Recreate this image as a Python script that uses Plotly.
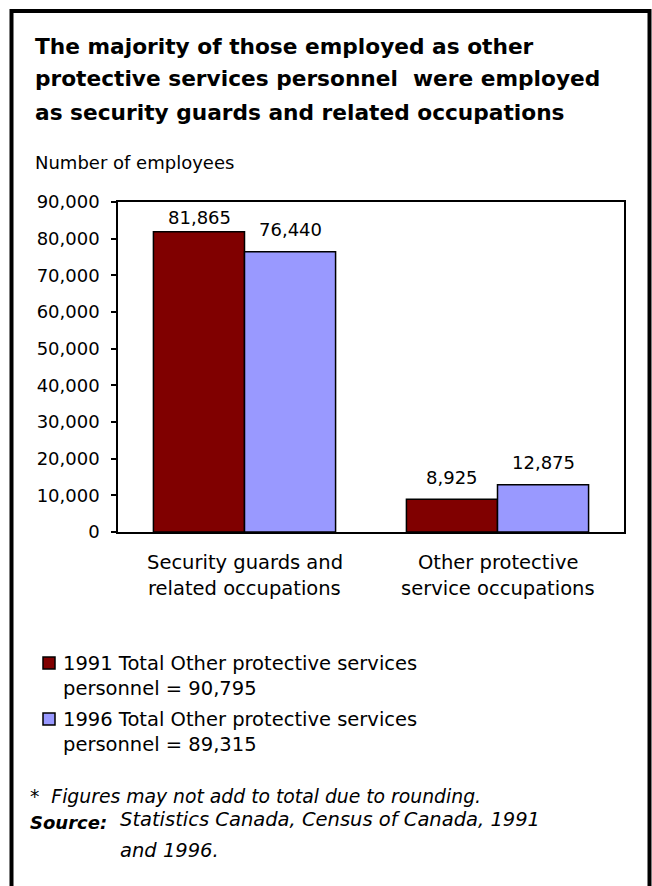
import plotly.graph_objects as go

# ---- data -------------------------------------------------------------
categories = ["Security guards and<br>related occupations",
              "Other protective<br>service occupations"]
years = ["1991", "1996"]
employees_1991 = [81865, 8925]
employees_1996 = [76440, 12875]
totals = [90795, 89315]
y_ticks = [0, 10000, 20000, 30000, 40000, 50000, 60000, 70000, 80000, 90000]

title_lines = [
    "The majority of those employed as other",
    "protective services personnel  were employed",
    "as security guards and related occupations",
]
y_title = "Number of employees"
footnote = "Figures may not add to total due to rounding."
source_lines = ["Statistics Canada, Census of Canada, 1991", "and 1996."]

# ---- styling ----------------------------------------------------------
W, H = 652, 886
L, R, T, B = 118, 624, 202, 532          # plot area in pixels
PW, PH = R - L, B - T
FONT = "DejaVu Sans, Liberation Sans, Arial, sans-serif"
colors = {"1991": "#800000", "1996": "#9999ff"}
TXT = 18        # axis ticks, value labels, axis title
TXT_L = 19.5    # category labels, legend, notes


def px_x(px):
    return (px - L) / PW


def px_y(py):
    return (B - py) / PH


fig = go.Figure()
for year, vals in zip(years, [employees_1991, employees_1996]):
    fig.add_trace(go.Bar(
        x=categories, y=vals, name=year,
        marker=dict(color=colors[year], line=dict(color="black", width=1.5)),
        showlegend=False, hoverinfo="skip",
    ))

annotations = []
shapes = []

# value labels above the bars (kept inside the plot box)
ymax = y_ticks[-1]
for i, (year, vals) in enumerate(zip(years, [employees_1991, employees_1996])):
    shift = -45.5 if i == 0 else 45.5
    for cat, v in zip(categories, vals):
        ylab = min(v + 6000, ymax - 4100)
        annotations.append(dict(
            x=cat, y=ylab, xref="x", yref="y", xshift=shift,
            text=f"{v:,}", showarrow=False, yanchor="middle",
            font=dict(family=FONT, size=TXT, color="black")))

# category labels (two lines each)
for cat in categories:
    for j, line in enumerate(cat.split("<br>")):
        annotations.append(dict(
            x=cat, y=px_y(562 + 26 * j), xref="x", yref="paper",
            text=line, showarrow=False, yanchor="middle", xanchor="center",
            font=dict(family=FONT, size=TXT_L, color="black")))

# title
for j, line in enumerate(title_lines):
    annotations.append(dict(
        x=px_x(33), y=px_y(46 + 33 * j), xref="paper", yref="paper",
        text=f"<b>{line}</b>", showarrow=False, xanchor="left", yanchor="middle",
        font=dict(family=FONT, size=21.7, color="black")))

annotations.append(dict(
    x=px_x(33), y=px_y(162), xref="paper", yref="paper", text=y_title,
    showarrow=False, xanchor="left", yanchor="middle",
    font=dict(family=FONT, size=TXT, color="black")))

# legend block
for k, (year, tot) in enumerate(zip(years, totals)):
    row = 663 + 56 * k
    shapes.append(dict(
        type="rect", xref="paper", yref="paper",
        x0=px_x(43), x1=px_x(55), y0=px_y(row + 6), y1=px_y(row - 6),
        fillcolor=colors[year], line=dict(color="black", width=1.5)))
    annotations.append(dict(
        x=px_x(61), y=px_y(row), xref="paper", yref="paper",
        text=f"{year} Total Other protective services", showarrow=False,
        xanchor="left", yanchor="middle",
        font=dict(family=FONT, size=TXT_L, color="black")))
    annotations.append(dict(
        x=px_x(61), y=px_y(row + 25), xref="paper", yref="paper",
        text=f"personnel = {tot:,}", showarrow=False,
        xanchor="left", yanchor="middle",
        font=dict(family=FONT, size=TXT_L, color="black")))

# footnotes
annotations.append(dict(
    x=px_x(28), y=px_y(796), xref="paper", yref="paper",
    text=f"*  <i>{footnote}</i>", showarrow=False, xanchor="left", yanchor="middle",
    font=dict(family=FONT, size=18.8, color="black")))
annotations.append(dict(
    x=px_x(28), y=px_y(822), xref="paper", yref="paper",
    text="<b><i>Source:</i></b>", showarrow=False, xanchor="left", yanchor="middle",
    font=dict(family=FONT, size=TXT, color="black")))
for j, line in enumerate(source_lines):
    annotations.append(dict(
        x=px_x(118), y=px_y(819 + 31 * j), xref="paper", yref="paper",
        text=f"<i>{line}</i>", showarrow=False, xanchor="left", yanchor="middle",
        font=dict(family=FONT, size=TXT_L, color="black")))

# outer frame
shapes.append(dict(
    type="rect", xref="paper", yref="paper",
    x0=px_x(11.5), x1=px_x(649.5), y0=px_y(900), y1=px_y(11),
    line=dict(color="black", width=4), fillcolor="rgba(0,0,0,0)"))

fig.update_layout(
    width=W, height=H,
    margin=dict(l=L, r=W - R, t=T, b=H - B, pad=0),
    paper_bgcolor="white", plot_bgcolor="white",
    barmode="group", bargap=0.28, bargroupgap=0,
    font=dict(family=FONT, size=TXT, color="black"),
    annotations=annotations, shapes=shapes,
    xaxis=dict(showticklabels=False, ticks="", showline=True, linecolor="black",
               linewidth=1.5, mirror=True, showgrid=False, fixedrange=True),
    yaxis=dict(range=[0, ymax], tickvals=y_ticks, tickformat=",", ticks="outside",
               ticklen=5, tickwidth=1.5, tickcolor="black", showline=True,
               linecolor="black", linewidth=1.5, mirror=True, showgrid=False,
               zeroline=False, ticklabelstandoff=8,
               tickfont=dict(family=FONT, size=TXT, color="black"), fixedrange=True),
)

fig.write_html("out.html", config={"displayModeBar": False})
